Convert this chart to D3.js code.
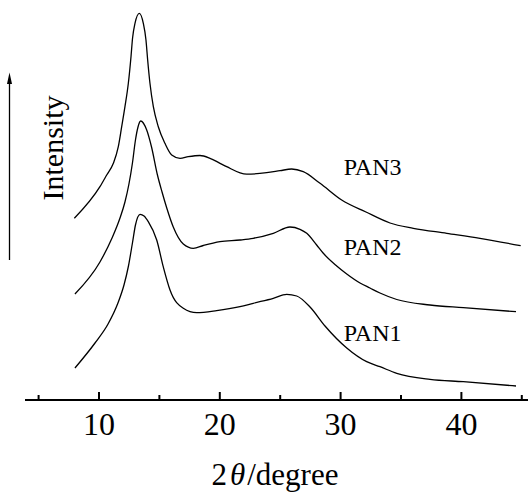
<!DOCTYPE html>
<html>
<head>
<meta charset="utf-8">
<script src="https://cdn.jsdelivr.net/npm/d3@7"></script>
<style>
    body { margin: 0; background: #fff; }
    svg { display: block; }
    svg text { font-family: "Liberation Serif", "Times New Roman", serif; }
    .curve { fill: none; stroke: #000; stroke-width: 1.3; }
</style>
</head>
<body>
<div id="chart"></div>
<script>
    // 2theta (degree) and intensity (a.u., curves stacked with offsets)
    const pan3Theta = [8.0, 10.12, 10.68, 11.23, 11.64, 11.92, 12.19, 12.47, 12.69, 12.82, 13.02, 13.38, 13.71, 13.93, 14.07, 14.26, 14.54, 14.95, 15.50, 16.06, 16.75, 17.43, 18.40, 19.23, 20.06, 20.61, 22.27, 23.92, 25.03, 25.99, 26.95, 28.34, 30.13, 32.14, 34.13, 36.06, 38.83, 41.58, 44.95];
    const pan3Int   = [1817, 2133, 2250, 2367, 2533, 2733, 2933, 3167, 3433, 3620, 3767, 3867, 3767, 3600, 3400, 3167, 2933, 2733, 2567, 2450, 2417, 2433, 2445, 2417, 2367, 2333, 2258, 2273, 2293, 2310, 2283, 2167, 2000, 1880, 1770, 1717, 1667, 1617, 1543];

    const pan2Theta = [8.05, 10.12, 11.12, 11.78, 12.19, 12.52, 12.81, 13.06, 13.27, 13.49, 13.99, 14.39, 14.88, 15.26, 15.65, 16.19, 17.02, 17.85, 18.68, 20.06, 21.71, 22.81, 24.47, 25.85, 26.68, 27.24, 28.06, 28.61, 29.72, 30.55, 31.65, 32.47, 33.30, 34.69, 37.44, 40.20, 44.56];
    const pan2Int   = [1060, 1380, 1620, 1820, 1980, 2160, 2370, 2600, 2730, 2790, 2700, 2530, 2250, 2080, 1920, 1730, 1560, 1517, 1545, 1583, 1600, 1617, 1667, 1730, 1707, 1667, 1550, 1467, 1340, 1260, 1170, 1120, 1070, 1005, 950, 923, 883];

    const pan1Theta = [8.05, 9.71, 10.79, 11.61, 12.11, 12.48, 12.81, 13.06, 13.44, 13.77, 14.12, 14.82, 15.36, 15.92, 17.02, 18.13, 19.78, 21.71, 22.81, 24.47, 25.58, 26.41, 27.51, 28.75, 30.55, 32.20, 33.30, 34.69, 37.44, 40.20, 44.56];
    const pan1Int   = [320, 570, 760, 970, 1150, 1340, 1570, 1750, 1857, 1840, 1783, 1600, 1333, 1100, 917, 873, 893, 933, 967, 1017, 1057, 1040, 930, 740, 520, 383, 333, 267, 207, 183, 140];

    const seriesNames = ["PAN1", "PAN2", "PAN3"];
    const majorTicks = [10, 20, 30, 40];
    const minorTicks = [5, 15, 25, 35, 45];

    const width = 528, height = 493;
    const axisY = 400;

    const svg = d3.select("#chart")
        .append("svg")
        .attr("width", width)
        .attr("height", height);

    const x = d3.scaleLinear().domain([5, 45]).range([38.1, 521.3]);
    const y = d3.scaleLinear().domain([0, 4000]).range([axisY, 0]);

    // curves
    const line = d3.line()
        .x(d => x(d[0]))
        .y(d => y(d[1]))
        .curve(d3.curveMonotoneX);

    const curves = [
        d3.zip(pan1Theta, pan1Int),
        d3.zip(pan2Theta, pan2Int),
        d3.zip(pan3Theta, pan3Int)
    ];

    svg.append("g")
        .selectAll("path")
        .data(curves)
        .enter().append("path")
        .attr("class", "curve")
        .attr("d", line);

    // series labels
    const labelPos = [[30.3, 590], [30.3, 1450], [30.3, 2250]];
    svg.append("g")
        .selectAll("text")
        .data(seriesNames)
        .enter().append("text")
        .attr("x", (d, i) => x(labelPos[i][0]))
        .attr("y", (d, i) => y(labelPos[i][1]))
        .style("font-size", "24px")
        .text(d => d);

    // x axis
    const axisG = svg.append("g").attr("transform", `translate(0,${axisY})`);

    axisG.call(d3.axisBottom(x)
        .tickValues(majorTicks)
        .tickSizeInner(-8)
        .tickSizeOuter(0)
        .tickPadding(12)
        .tickFormat(d3.format("d")));

    axisG.selectAll(".tick line").attr("stroke", "#000").attr("stroke-width", 2);
    axisG.selectAll(".tick text")
        .style("font-size", "32px")
        .style("font-family", "'Liberation Serif', 'Times New Roman', serif")
        .attr("fill", "#000");
    axisG.select(".domain").remove();

    const minorG = svg.append("g").attr("transform", `translate(0,${axisY})`);
    minorG.call(d3.axisBottom(x)
        .tickValues(minorTicks)
        .tickSizeInner(-5)
        .tickSizeOuter(0)
        .tickFormat(""));
    minorG.selectAll(".tick line").attr("stroke", "#000").attr("stroke-width", 2);
    minorG.select(".domain").remove();

    svg.append("line")
        .attr("x1", 25).attr("x2", width)
        .attr("y1", axisY).attr("y2", axisY)
        .attr("stroke", "#000")
        .attr("stroke-width", 2);

    // x axis title
    const title = svg.append("text")
        .attr("x", 275)
        .attr("y", 485)
        .attr("text-anchor", "middle")
        .style("font-size", "31px");
    title.append("tspan").text("2");
    title.append("tspan").style("font-style", "italic").attr("dx", 3).text("θ");
    title.append("tspan").attr("dx", 2).text("/degree");

    // intensity arrow
    svg.append("line")
        .attr("x1", 9.5).attr("x2", 9.5)
        .attr("y1", 260).attr("y2", 80)
        .attr("stroke", "#000")
        .attr("stroke-width", 1.3);

    svg.append("path")
        .attr("d", "M9.5,72.5 L12,84 L7,84 Z")
        .attr("fill", "#000");

    svg.append("text")
        .attr("transform", "translate(63,148) rotate(-90)")
        .attr("text-anchor", "middle")
        .style("font-size", "30px")
        .text("Intensity");
</script>
</body>
</html>
